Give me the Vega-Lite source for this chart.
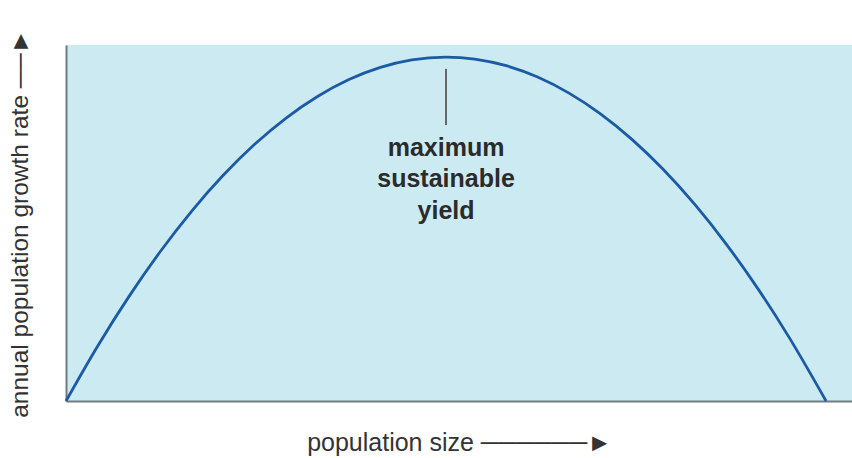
{
  "$schema": "https://vega.github.io/schema/vega-lite/v6.json",
  "width": 786,
  "height": 356,
  "autosize": {"type": "none"},
  "padding": {"left": 66, "top": 45, "right": 0, "bottom": 57},
  "background": "white",
  "config": {
    "view": {"fill": "#cceaf1", "stroke": null},
    "font": "Liberation Sans"
  },
  "datasets": {
    "curve": [
      {"size": 0, "rate": 0},
      {"size": 4, "rate": 15.32},
      {"size": 8, "rate": 29.32},
      {"size": 12, "rate": 42.0},
      {"size": 16, "rate": 53.36},
      {"size": 20, "rate": 63.39},
      {"size": 24, "rate": 72.1},
      {"size": 28, "rate": 79.49},
      {"size": 32, "rate": 85.55},
      {"size": 36, "rate": 90.3},
      {"size": 40, "rate": 93.72},
      {"size": 44, "rate": 95.82},
      {"size": 48.35, "rate": 96.6},
      {"size": 52, "rate": 96.05},
      {"size": 56, "rate": 94.18},
      {"size": 60, "rate": 90.99},
      {"size": 64, "rate": 86.48},
      {"size": 68, "rate": 80.65},
      {"size": 72, "rate": 73.49},
      {"size": 76, "rate": 65.01},
      {"size": 80, "rate": 55.21},
      {"size": 84, "rate": 44.08},
      {"size": 88, "rate": 31.64},
      {"size": 92, "rate": 17.87},
      {"size": 96.7, "rate": 0}
    ],
    "pointer": [
      {"size": 48.35, "top": 93.3, "bottom": 77.5}
    ],
    "label": [
      {"size": 48.35, "rate": 71.07, "text": ["maximum", "sustainable", "yield"]}
    ]
  },
  "layer": [
    {
      "data": {"name": "curve"},
      "mark": {"type": "line", "color": "#1b5aa5", "strokeWidth": 2.8, "interpolate": "monotone"},
      "encoding": {
        "x": {
          "field": "size", "type": "quantitative",
          "scale": {"domain": [0, 100], "nice": false, "zero": true},
          "axis": {
            "title": "population size  ──────►",
            "titleFontSize": 25, "titleFontWeight": "normal", "titleColor": "#333333",
            "titlePadding": 29,
            "labels": false, "ticks": false, "grid": false,
            "domainColor": "#6f7c80", "domainWidth": 2
          }
        },
        "y": {
          "field": "rate", "type": "quantitative",
          "scale": {"domain": [0, 100], "nice": false},
          "axis": {
            "title": "annual population growth rate ──►",
            "titleFontSize": 24.5, "titleFontWeight": "normal", "titleColor": "#333333",
            "titlePadding": 34,
            "labels": false, "ticks": false, "grid": false,
            "domainColor": "#6f7c80", "domainWidth": 2
          }
        }
      }
    },
    {
      "data": {"name": "pointer"},
      "mark": {"type": "rule", "color": "#666666", "strokeWidth": 2},
      "encoding": {
        "x": {"field": "size", "type": "quantitative"},
        "y": {"field": "top", "type": "quantitative"},
        "y2": {"field": "bottom"}
      }
    },
    {
      "data": {"name": "label"},
      "mark": {"type": "text", "fontSize": 25, "fontWeight": "bold", "color": "#2b2b2b", "lineHeight": 31.5, "baseline": "middle", "align": "center"},
      "encoding": {
        "x": {"field": "size", "type": "quantitative"},
        "y": {"field": "rate", "type": "quantitative"},
        "text": {"field": "text"}
      }
    }
  ]
}
